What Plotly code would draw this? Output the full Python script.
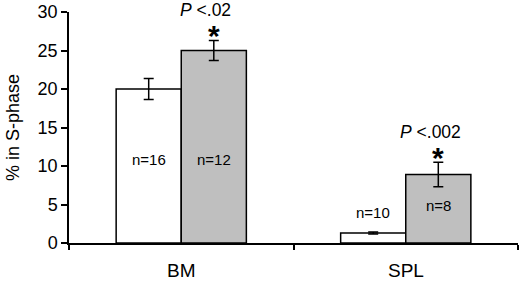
import plotly.graph_objects as go

categories = ["BM", "SPL"]
control_vals = [20.0, 1.3]
control_err = [1.35, 0.12]
treated_vals = [25.0, 8.9]
treated_err = [1.3, 1.6]
control_n = ["n=16", "n=10"]
treated_n = ["n=12", "n=8"]
control_n_y = [10.8, 3.9]
treated_n_y = [10.8, 4.9]
p_labels = ["<i>P</i> &lt;.02", "<i>P</i> &lt;.002"]

xs = list(range(len(categories)))
bargap = 0.42
half = (1 - bargap) / 4  # center offset of each bar in group

fig = go.Figure()
fig.add_trace(go.Bar(
    x=xs, y=control_vals, width=(1 - bargap) / 2, offset=-(1 - bargap) / 2,
    marker=dict(color="white", line=dict(color="black", width=1.5)),
    error_y=dict(type="data", array=control_err, color="black", thickness=1.5, width=5),
    showlegend=False, hoverinfo="skip",
))
fig.add_trace(go.Bar(
    x=xs, y=treated_vals, width=(1 - bargap) / 2, offset=0,
    marker=dict(color="#bfbfbf", line=dict(color="black", width=1.5)),
    error_y=dict(type="data", array=treated_err, color="black", thickness=1.5, width=5),
    showlegend=False, hoverinfo="skip",
))

font = "Liberation Sans, Arial, sans-serif"
ann = []
for i in xs:
    ann.append(dict(x=i - half, y=control_n_y[i], text=control_n[i], showarrow=False,
                    font=dict(size=15, color="black", family=font)))
    ann.append(dict(x=i + half, y=treated_n_y[i], text=treated_n[i], showarrow=False,
                    font=dict(size=15, color="black", family=font)))
    top = treated_vals[i] + treated_err[i]
    ann.append(dict(x=i + half, y=top, text="<b>*</b>", showarrow=False, yanchor="bottom",
                    yshift=-14, font=dict(size=30, color="black", family=font)))
    ann.append(dict(x=i + half, y=top, text=p_labels[i], showarrow=False, yanchor="bottom",
                    xshift=-8, yshift=18, font=dict(size=17.5, color="black", family=font)))
# category labels
for i, c in enumerate(categories):
    ann.append(dict(x=i, y=0, yref="y", text=c, showarrow=False, yanchor="bottom", yshift=-40,
                    font=dict(size=19, color="black", family=font)))

fig.update_layout(
    width=520, height=283,
    margin=dict(l=69, r=2, t=12, b=40),
    plot_bgcolor="white", paper_bgcolor="white",
    barmode="overlay",
    annotations=ann,
    font=dict(family=font, color="black"),
    xaxis=dict(range=[-0.5, 1.5], showline=True, linecolor="black", linewidth=1.5,
               showgrid=False, zeroline=False, tickvals=[], showticklabels=False,
               automargin=False, fixedrange=True,
               minor=dict(tickvals=[-0.5, 0.5, 1.5], ticks="outside", ticklen=5,
                          tickcolor="black", tickwidth=1.5, showgrid=False)),
    yaxis=dict(range=[0, 30], dtick=5, showline=True, linecolor="black", linewidth=1.5,
               ticks="outside", ticklen=6, tickcolor="black", tickwidth=1.5,
               showgrid=False, zeroline=False, automargin=False, fixedrange=True,
               tickfont=dict(size=18, color="black", family=font),
               title=dict(text="% in S-phase", font=dict(size=18, color="black", family=font),
                          standoff=13)),
)
fig.write_html("out.html", config={"displayModeBar": False},
               post_script="document.body.style.margin='0';document.body.style.overflow='hidden';")
